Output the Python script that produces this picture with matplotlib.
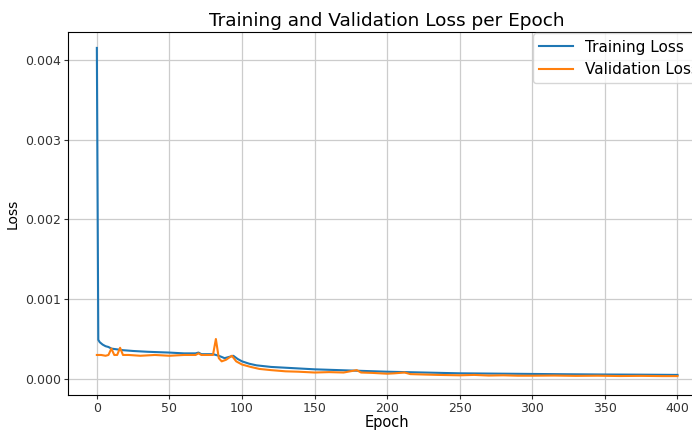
import matplotlib.pyplot as plt

train_epochs = [0, 1, 2, 4, 6, 8, 10, 14, 18, 25, 35, 50, 60, 68, 70, 72, 80, 84, 88,
                92, 94, 97, 100, 105, 110, 120, 130, 140, 150, 175, 200, 225, 250,
                275, 300, 325, 350, 375, 400]
train_loss = [0.00415, 0.00049, 0.00046, 0.00043, 0.00041, 0.00040, 0.00038, 0.00037,
              0.00036, 0.00035, 0.00034, 0.00033, 0.00032, 0.00032, 0.00033, 0.00031,
              0.00031, 0.00029, 0.00026, 0.00028, 0.00029, 0.00025, 0.00022, 0.00019,
              0.00017, 0.00015, 0.00014, 0.00013, 0.00012, 0.000105, 0.00009, 0.00008,
              0.00007, 0.000066, 0.000062, 0.000058, 0.000055, 0.000053, 0.00005]

val_epochs = [0, 3, 6, 8, 10, 12, 14, 16, 18, 22, 30, 40, 50, 60, 68, 70, 72, 78, 80,
              82, 84, 86, 89, 93, 96, 100, 106, 112, 120, 130, 139, 150, 160, 170,
              179, 182, 190, 200, 205, 212, 216, 225, 235, 250, 260, 270, 280, 290,
              300, 315, 330, 345, 360, 375, 390, 400]
val_loss = [0.00030, 0.00030, 0.00029, 0.00030, 0.00038, 0.00030, 0.00030, 0.00039,
            0.00030, 0.00030, 0.00029, 0.00030, 0.00029, 0.00030, 0.00030, 0.00032,
            0.00030, 0.00030, 0.00030, 0.00050, 0.00026, 0.00022, 0.00024, 0.00029,
            0.00022, 0.00018, 0.00015, 0.000125, 0.00011, 0.000095, 0.00009, 0.00008,
            0.000085, 0.00008, 0.00011, 0.00008, 0.000075, 0.000065, 0.00007, 0.00008,
            0.00006, 0.000055, 0.00005, 0.000045, 0.00005, 0.000042, 0.000045,
            0.00004, 0.00004, 0.000042, 0.000038, 0.00004, 0.000036, 0.000038,
            0.000035, 0.000035]

fig = plt.figure(figsize=(6.92, 4.32), dpi=100)
ax = fig.add_axes([0.098, 0.086, 0.923, 0.840])

ax.plot(train_epochs, train_loss, color='#1f77b4', linewidth=1.5, label='Training Loss')
ax.plot(val_epochs, val_loss, color='#ff7f0e', linewidth=1.5, label='Validation Loss')

ax.set_xlim(-20, 420)
ax.set_ylim(-0.0002, 0.00435)
ax.set_xticks(range(0, 401, 50))
ax.set_yticks([0.0, 0.001, 0.002, 0.003, 0.004])
ax.set_yticklabels(['0.000', '0.001', '0.002', '0.003', '0.004'])
ax.tick_params(labelsize=9, length=3, pad=2, colors='#333333')

ax.set_title('Training and Validation Loss per Epoch', fontsize=13.3, pad=4)
ax.set_xlabel('Epoch', fontsize=10.5, labelpad=0)
ax.set_ylabel('Loss', fontsize=10, labelpad=4)
ax.grid(True, color='#cccccc', linewidth=0.9)
ax.legend(loc='upper right', fontsize=11, borderaxespad=0.1, handlelength=2.2)

fig.savefig('out.png', dpi=100)
